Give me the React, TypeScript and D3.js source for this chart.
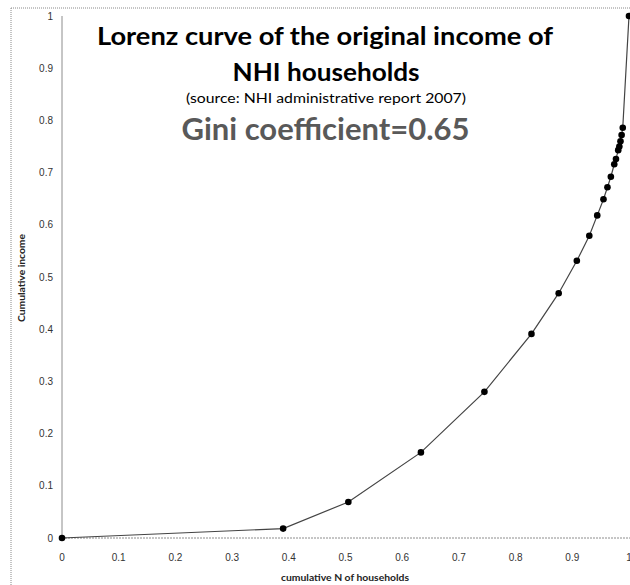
import React from "react";
import * as d3 from "d3";

const cumHouseholds = [0, 0.39, 0.505, 0.633, 0.745, 0.828, 0.876, 0.908, 0.93, 0.944, 0.955, 0.962, 0.968, 0.974, 0.977, 0.981, 0.983, 0.985, 0.987, 0.989, 1];
const cumIncome = [0, 0.018, 0.069, 0.164, 0.28, 0.391, 0.469, 0.531, 0.579, 0.618, 0.649, 0.672, 0.692, 0.716, 0.726, 0.743, 0.75, 0.76, 0.772, 0.786, 1];
const xTicks = [0, 0.1, 0.2, 0.3, 0.4, 0.5, 0.6, 0.7, 0.8, 0.9, 1];
const yTicks = [0, 0.1, 0.2, 0.3, 0.4, 0.5, 0.6, 0.7, 0.8, 0.9, 1];

const W = 630;
const H = 585;

export default function App() {
  const x = d3.scaleLinear().domain([0, 1]).range([62, 629]);
  const y = d3.scaleLinear().domain([0, 1]).range([538, 16]);
  const pts = cumHouseholds.map((v, i) => [v, cumIncome[i]] as [number, number]);
  const line = d3
    .line<[number, number]>()
    .x((d) => x(d[0]))
    .y((d) => y(d[1]));
  const fmt = (v: number) => (v === 0 ? "0" : v === 1 ? "1" : String(v));
  const tickFont = "'Liberation Sans', Arial, sans-serif";
  const titleFont = "Lato, 'Open Sans', sans-serif";
  return (
    <svg
      width={W}
      height={H}
      style={{ position: "absolute", left: 0, top: 0, background: "#fff" }}
    >
      <rect x={0} y={0} width={W} height={H} fill="#fff" />
      {/* outer chart border */}
      <line x1={11} y1={8} x2={W} y2={8} stroke="#8a8a8a" strokeWidth={1} strokeDasharray="1,1" />
      <line x1={11} y1={8} x2={11} y2={H} stroke="#8a8a8a" strokeWidth={1} strokeDasharray="1,1" />
      {/* axes */}
      <line x1={x(0)} y1={y(1)} x2={x(0)} y2={y(0)} stroke="#8c8c8c" strokeWidth={1} />
      <line x1={x(0)} y1={y(0)} x2={W} y2={y(0)} stroke="#8c8c8c" strokeWidth={1} strokeDasharray="2,1" />
      {yTicks.map((t) => (
        <text
          key={"y" + t}
          x={53}
          y={y(t)}
          dy="0.35em"
          textAnchor="end"
          fontSize={10}
          fontFamily={tickFont}
          fill="#333"
        >
          {fmt(t)}
        </text>
      ))}
      {xTicks.map((t) => (
        <text
          key={"x" + t}
          x={x(t)}
          y={557}
          dy="0.35em"
          textAnchor="middle"
          fontSize={10}
          fontFamily={tickFont}
          fill="#333"
        >
          {fmt(t)}
        </text>
      ))}
      <text
        x={345}
        y={581}
        textAnchor="middle"
        fontSize={10}
        fontWeight="bold"
        fontFamily={titleFont}
        fill="#222"
        textLength={128}
        lengthAdjust="spacingAndGlyphs"
      >
        cumulative N of households
      </text>
      <text
        transform={`translate(25,278) rotate(-90)`}
        textAnchor="middle"
        fontSize={10}
        fontWeight="bold"
        fontFamily={titleFont}
        fill="#222"
        textLength={88}
        lengthAdjust="spacingAndGlyphs"
      >
        Cumulative income
      </text>
      {/* curve */}
      <path d={line(pts) || ""} fill="none" stroke="#444" strokeWidth={1.2} />
      {pts.map((d, i) => (
        <circle key={i} cx={x(d[0])} cy={y(d[1])} r={3.3} fill="#000" />
      ))}
      {/* titles */}
      <text
        x={325}
        y={44.5}
        textAnchor="middle"
        fontSize={25}
        fontWeight="bold"
        fontFamily={titleFont}
        fill="#000"
        textLength={456}
        lengthAdjust="spacingAndGlyphs"
      >
        Lorenz curve of the original income of
      </text>
      <text
        x={326}
        y={81}
        textAnchor="middle"
        fontSize={25}
        fontWeight="bold"
        fontFamily={titleFont}
        fill="#000"
        textLength={187}
        lengthAdjust="spacingAndGlyphs"
      >
        NHI households
      </text>
      <text
        x={326}
        y={103}
        textAnchor="middle"
        fontSize={13}
        fontFamily={titleFont}
        fill="#000"
        textLength={280}
        lengthAdjust="spacingAndGlyphs"
      >
        (source: NHI administrative report 2007)
      </text>
      <text
        x={325.5}
        y={139.5}
        textAnchor="middle"
        fontSize={30}
        fontWeight="bold"
        fontFamily={titleFont}
        fill="#595959"
        textLength={288}
        lengthAdjust="spacingAndGlyphs"
      >
        Gini coefficient=0.65
      </text>
    </svg>
  );
}
